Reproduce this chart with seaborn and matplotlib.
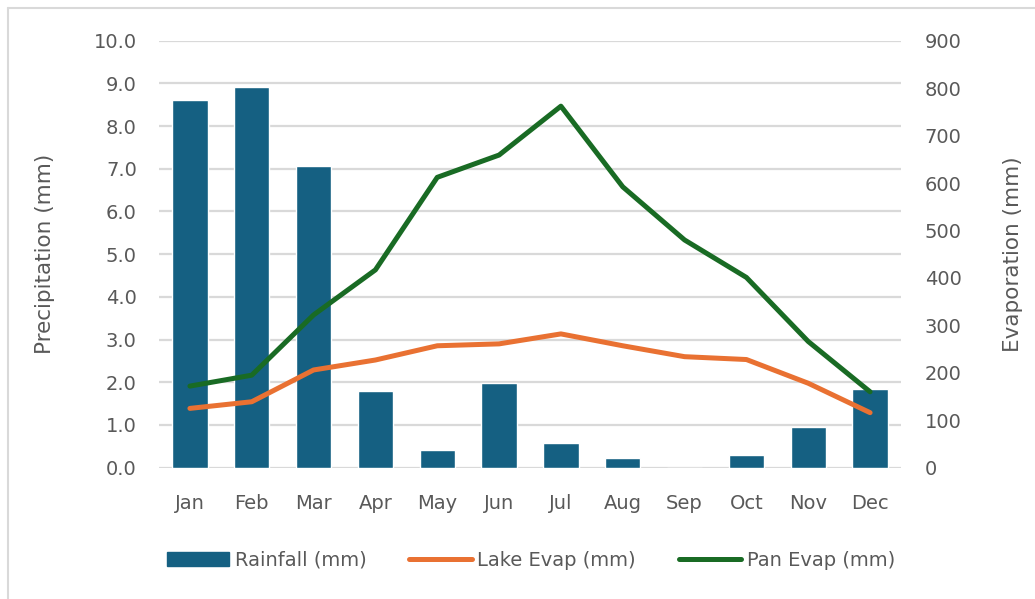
import matplotlib
matplotlib.use("Agg")
import matplotlib.pyplot as plt
import seaborn as sns
import pandas as pd
import numpy as np
from matplotlib.lines import Line2D
from matplotlib.patches import Patch

months = ["Jan", "Feb", "Mar", "Apr", "May", "Jun", "Jul", "Aug", "Sep", "Oct", "Nov", "Dec"]
rainfall = [8.6, 8.92, 7.07, 1.8, 0.41, 1.99, 0.59, 0.22, 0.0, 0.29, 0.95, 1.84]
lake_evap = [125, 139, 206, 227, 257, 261, 282, 257, 234, 228, 178, 116]
pan_evap = [172, 195, 322, 417, 612, 659, 762, 592, 480, 401, 266, 160]

sns.set_theme(style="white")
plt.rcParams['font.family'] = ['DejaVu Sans']

bar_c = "#156082"
lake_c = "#E97132"
pan_c = "#196B24"
txt_c = "#595959"
grid_c = "#D9D9D9"

df = pd.DataFrame({"month": months, "rain": rainfall, "lake": lake_evap, "pan": pan_evap})
df["pos"] = np.arange(len(df))

fig = plt.figure(figsize=(10.35, 5.99), dpi=100)
ax = fig.add_axes([159/1035, 1-467.7/599, (901-159)/1035, (467.7-40.7)/599])

sns.barplot(data=df, x="month", y="rain", color=bar_c, width=0.57, ax=ax, saturation=1, zorder=3)
ax.set_ylim(0, 10)
ax.set_xlim(-0.5, 11.5)
ax.set_yticks(np.arange(0, 10.01, 1.0))
ax.set_yticklabels([f"{v:.1f}" for v in np.arange(0, 10.01, 1.0)])
for y in np.arange(0, 10.01, 1.0):
    ax.axhline(y, color=grid_c, lw=1.6, zorder=0)
for s in ax.spines.values():
    s.set_visible(False)
ax.tick_params(axis="y", length=0, pad=16, labelsize=14, labelcolor=txt_c)
ax.tick_params(axis="x", length=0, pad=19, labelsize=14, labelcolor=txt_c)
ax.set_xlabel("")
ax.set_ylabel("Precipitation (mm)", fontsize=15.5, color=txt_c, labelpad=28)

ax2 = ax.twinx()
sns.lineplot(data=df, x="pos", y="lake", color=lake_c, lw=3.6, ax=ax2, solid_capstyle="round", zorder=4)
sns.lineplot(data=df, x="pos", y="pan", color=pan_c, lw=3.6, ax=ax2, solid_capstyle="round", zorder=5)
ax2.set_ylim(0, 900)
ax2.set_xlim(-0.5, 11.5)
ax2.set_yticks(np.arange(0, 901, 100))
for s in ax2.spines.values():
    s.set_visible(False)
ax2.tick_params(axis="y", length=0, pad=17, labelsize=14, labelcolor=txt_c)
ax2.set_ylabel("Evaporation (mm)", fontsize=15.5, color=txt_c, labelpad=30)
ax2.set_xlabel("")

handles = [Patch(facecolor=bar_c, edgecolor=bar_c),
           Line2D([0], [0], color=lake_c, lw=3.6, solid_capstyle="round"),
           Line2D([0], [0], color=pan_c, lw=3.6, solid_capstyle="round")]
labels = ["Rainfall (mm)", "Lake Evap (mm)", "Pan Evap (mm)"]
fig.legend(handles, labels, loc="center", bbox_to_anchor=(531/1035, 1-560/599), ncol=3,
           frameon=False, fontsize=14, handlelength=3.2, handletextpad=0.3,
           columnspacing=2.2, labelcolor=txt_c)

# chart border (top and left visible)
fig.add_artist(Line2D([8/1035, 1.0], [1-8/599, 1-8/599], transform=fig.transFigure, color="#D9D9D9", lw=1.5))
fig.add_artist(Line2D([8/1035, 8/1035], [0, 1-8/599], transform=fig.transFigure, color="#D9D9D9", lw=1.5))

fig.savefig("out.png", dpi=100, facecolor="white")
